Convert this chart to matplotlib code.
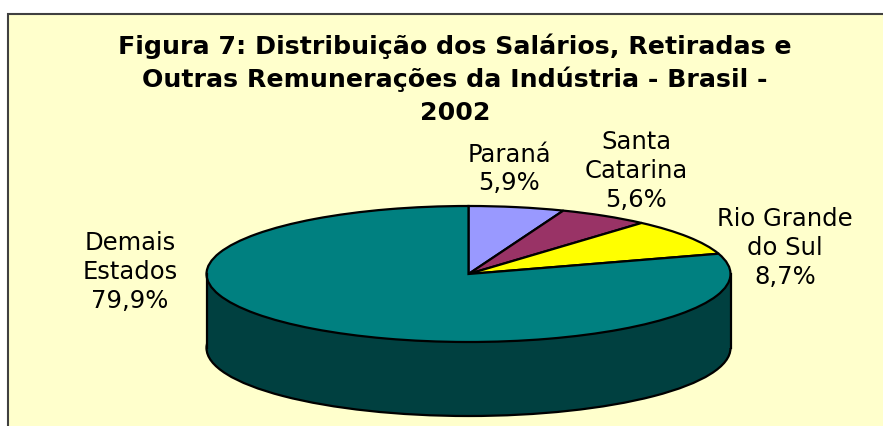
import matplotlib

matplotlib.use("Agg")
import matplotlib.pyplot as plt
from matplotlib.patches import Rectangle

W, H = 883, 427

TITLE_LINES = [
    "Figura 7: Distribuição dos Salários, Retiradas e",
    "Outras Remunerações da Indústria - Brasil -",
    "2002",
]
STATES = ["Paraná", "Santa Catarina", "Rio Grande do Sul", "Demais Estados"]
SHARES = [5.9, 5.6, 8.7, 79.9]
TOP_COLORS = ["#9999FF", "#993366", "#FFFF00", "#008080"]
SIDE_COLOR = "#004040"

# pie geometry in reference pixels
CX, CY, RX, RY, DEPTH = 468.5, 275, 262, 68, 74


def px(x, y):
    return x / W, 1 - y / H


fig = plt.figure(figsize=(W / 100, H / 100), dpi=100, facecolor="white")
# panel runs off the right and bottom of the image, like the reference
fig.patches.append(Rectangle((8 / W, -0.05), 1.05, 1.05 - 14.5 / H,
                             transform=fig.transFigure, facecolor="#FFFFCC",
                             edgecolor="#404040", linewidth=1.5, zorder=-1))

ax = fig.add_axes([0, 0, 1, 1])
ax.patch.set_visible(False)

depth = DEPTH / RY
edge = dict(edgecolor="black", linewidth=1.6)

# cylinder wall first, then the lid on top
ax.add_patch(plt.Circle((0, -depth), 1, facecolor=SIDE_COLOR, **edge))
ax.fill_between([-1, 1], -depth, 0, color=SIDE_COLOR, linewidth=0)
ax.plot([-1, -1], [-depth, 0], color="black", lw=1.6)
ax.plot([1, 1], [-depth, 0], color="black", lw=1.6)
ax.pie(SHARES, colors=TOP_COLORS, startangle=90, counterclock=False, wedgeprops=edge)

ax.set_aspect("auto")
ax.set_xlim(-CX / RX, (W - CX) / RX)
ax.set_ylim((CY - H) / RY, CY / RY)
ax.axis("off")

for line, y in zip(TITLE_LINES, [46, 79, 113]):
    fig.text(*px(455, y), line, ha="center", va="center", fontsize=18.2,
             fontweight="bold", family="DejaVu Sans", color="black")

labels = [
    ("Paraná\n5,9%", 509, 169),
    ("Santa\nCatarina\n5,6%", 636, 171),
    ("Rio Grande\ndo Sul\n8,7%", 785, 248),
    ("Demais\nEstados\n79,9%", 130, 272),
]
for text, x, y in labels:
    fig.text(*px(x, y), text, ha="center", va="center", fontsize=17.5,
             family="DejaVu Sans", color="black", linespacing=1.24)

fig.savefig("out.png", dpi=100, facecolor=fig.get_facecolor())
